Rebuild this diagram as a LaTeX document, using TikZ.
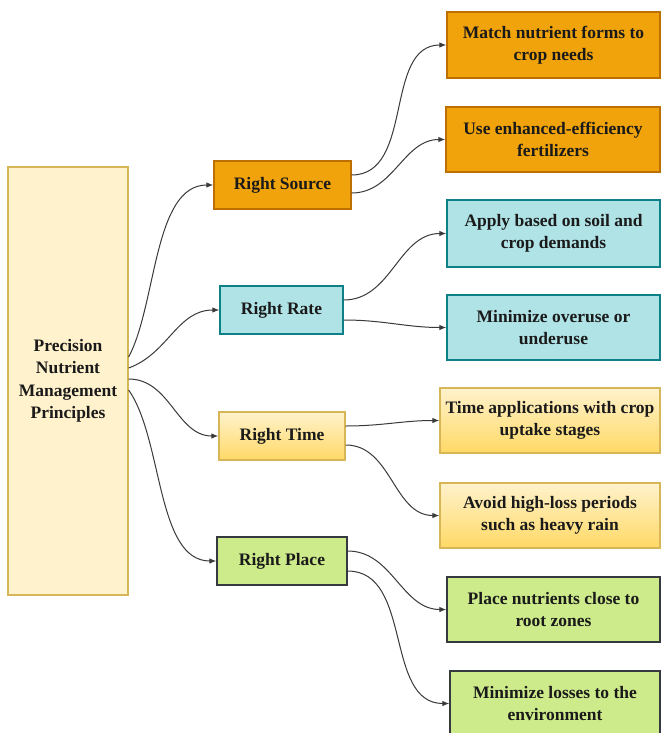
\documentclass[tikz,border=0pt]{standalone}
\usepackage{fontspec}
\setmainfont{Liberation Serif}
\usetikzlibrary{arrows.meta}
\definecolor{mainfill}{HTML}{FFF2CC}
\definecolor{maindraw}{HTML}{D6B656}
\definecolor{orfill}{HTML}{F0A30A}
\definecolor{ordraw}{HTML}{BD7000}
\definecolor{tefill}{HTML}{B0E3E6}
\definecolor{tedraw}{HTML}{0E8088}
\definecolor{yetop}{HTML}{FFF2CC}
\definecolor{yebot}{HTML}{FFD966}
\definecolor{grfill}{HTML}{CDEB8B}
\definecolor{grdraw}{HTML}{36393D}
\definecolor{txt}{HTML}{1A1A1A}
\definecolor{edge}{HTML}{3A3A3A}
\tikzset{
  box/.style={rectangle, inner sep=0pt, align=center, text=txt, line width=1.3pt,
    font=\fontsize{17.5}{22.5}\selectfont\bfseries},
  orbox/.style={box, fill=orfill, draw=ordraw},
  teal/.style={box, fill=tefill, draw=tedraw},
  yebox/.style={box, top color=yetop, bottom color=yebot, draw=maindraw},
  grbox/.style={box, fill=grfill, draw=grdraw},
  conn/.style={draw=edge, line width=1pt, -{Latex[length=7pt,width=5.5pt]}}
}
\begin{document}
\begin{tikzpicture}[x=1pt,y=-1pt]
\useasboundingbox (0,0) rectangle (662,733);
\clip (0,0) rectangle (662,733);
\fill[white] (0,0) rectangle (662,733);

\node[box, fill=mainfill, draw=maindraw, minimum width=120pt, minimum height=428pt] (main) at (68,381)
  {Precision\\Nutrient\\Management\\Principles};

\node[orbox, minimum width=137pt, minimum height=48pt] (src) at (282.5,185) {Right Source};
\node[teal, minimum width=123pt, minimum height=48pt] (rate) at (281.5,310) {Right Rate};
\node[yebox, minimum width=126pt, minimum height=48pt] (time) at (282,436) {Right Time};
\node[grbox, minimum width=130pt, minimum height=48pt] (place) at (282,561) {Right Place};

\node[orbox, minimum width=213pt, minimum height=66pt] (match) at (553.5,45) {Match nutrient forms to\\crop needs};
\node[orbox, minimum width=214pt, minimum height=65pt] (use) at (553,139.5) {Use enhanced-efficiency\\fertilizers};
\node[teal, minimum width=213pt, minimum height=67pt] (apply) at (553.5,233.5) {Apply based on soil and\\crop demands};
\node[teal, minimum width=213pt, minimum height=65pt] (over) at (553.5,327.5) {Minimize overuse or\\underuse};
\node[yebox, minimum width=220pt, minimum height=65pt] (tapp) at (550,420.5) {Time applications with crop\\uptake stages};
\node[yebox, minimum width=220pt, minimum height=65pt] (avoid) at (550,515.5) {Avoid high-loss periods\\such as heavy rain};
\node[grbox, minimum width=213pt, minimum height=65pt] (pnut) at (553.5,609.5) {Place nutrients close to\\root zones};
\node[grbox, minimum width=210pt, minimum height=65pt] (loss) at (555,703.5) {Minimize losses to the\\environment};

\draw[conn] ([yshift=24pt]main.east) to[out=62,in=180,looseness=0.8] (src.west);
\draw[conn] ([yshift=13pt]main.east) to[out=20,in=180] (rate.west);
\draw[conn] ([yshift=2pt]main.east) to[out=0,in=180] (time.west);
\draw[conn] ([yshift=-9pt]main.east) to[out=-55,in=180,looseness=0.8] (place.west);

\draw[conn] ([yshift=10pt]src.east) to[out=0,in=180] (match.west);
\draw[conn] ([yshift=-8pt]src.east) to[out=0,in=180] (use.west);
\draw[conn] ([yshift=10pt]rate.east) to[out=0,in=180] (apply.west);
\draw[conn] ([yshift=-10pt]rate.east) to[out=0,in=180] (over.west);
\draw[conn] ([yshift=10pt]time.east) to[out=0,in=180] (tapp.west);
\draw[conn] ([yshift=-9pt]time.east) to[out=0,in=180] (avoid.west);
\draw[conn] ([yshift=10pt]place.east) to[out=0,in=180] (pnut.west);
\draw[conn] ([yshift=-10pt]place.east) to[out=0,in=180] (loss.west);
\end{tikzpicture}
\end{document}
